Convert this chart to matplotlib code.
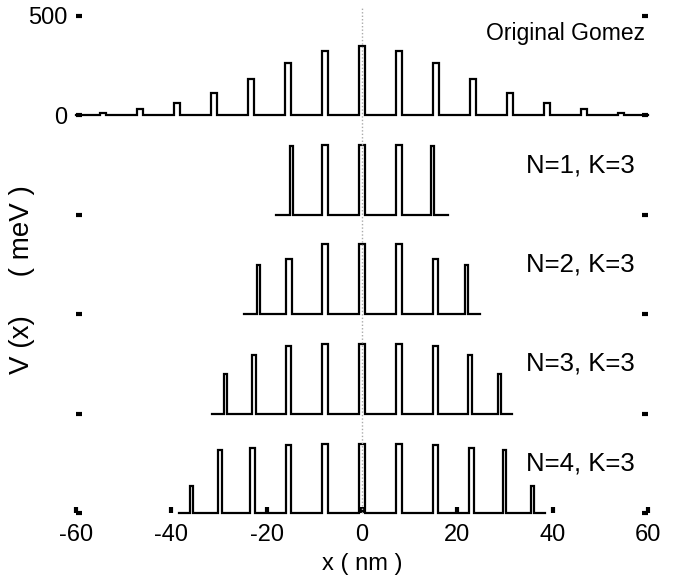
import numpy as np
import matplotlib
matplotlib.use("Agg")
import matplotlib.pyplot as plt

plt.rcParams["font.family"] = ["Liberation Sans Narrow", "Liberation Sans", "DejaVu Sans"]
plt.rcParams["axes.unicode_minus"] = False

# barrier profiles: centre (nm), width (nm), height (meV)
gomez_x = [-54.3, -46.5, -38.8, -31.0, -23.3, -15.5, -7.8, 0.0,
           7.8, 15.5, 23.3, 31.0, 38.8, 46.5, 54.3]
gomez_w = [1.2] * 15
gomez_h = [13, 31, 61, 112, 185, 262, 323, 347, 323, 262, 185, 112, 61, 31, 13]

n1_x = [-14.8, -7.7, 0.0, 7.7, 14.8]
n1_w = [0.6, 1.2, 1.2, 1.2, 0.6]
n1_h = [345, 350, 350, 350, 345]

n2_x = [-21.8, -15.3, -7.7, 0.0, 7.7, 15.4, 21.9]
n2_w = [0.6, 1.2, 1.2, 1.2, 1.2, 1.2, 0.6]
n2_h = [247, 280, 352, 352, 352, 280, 247]

n3_x = [-28.7, -22.6, -15.4, -7.7, 0.0, 7.7, 15.4, 22.6, 28.8]
n3_w = [0.65, 0.9, 1.2, 1.2, 1.2, 1.2, 1.2, 0.9, 0.65]
n3_h = [197, 297, 342, 352, 352, 352, 342, 297, 197]

n4_x = [-35.8, -29.8, -23.0, -15.4, -7.7, 0.0, 7.7, 15.4, 23.0, 29.9, 35.8]
n4_w = [0.6, 0.7, 1.1, 1.2, 1.2, 1.2, 1.2, 1.2, 1.1, 0.7, 0.6]
n4_h = [138, 318, 327, 340, 348, 348, 348, 340, 327, 318, 138]

extents = [60.0, 18.0, 24.7, 31.4, 38.3]   # half length of each structure
offsets = [0, -500, -1000, -1500, -2000]   # vertical shift of each curve
labels = ["Original Gomez", "N=1, K=3", "N=2, K=3", "N=3, K=3", "N=4, K=3"]

yticks = [500, 0, -500, -1000, -1500, -2000]
yticklabels = ["500", "0", "", "", "", ""]
xticks = [-60, -40, -20, 0, 20, 40, 60]


def profile(centres, widths, heights, half, base):
    xs = [-half]
    ys = [base]
    for c, w, h in zip(centres, widths, heights):
        xs += [c - w / 2, c - w / 2, c + w / 2, c + w / 2]
        ys += [base, base + h, base + h, base]
    xs.append(half)
    ys.append(base)
    return xs, ys


fig = plt.figure(figsize=(6.79, 5.88), dpi=100)
ax = fig.add_axes([76 / 679, 1 - 513 / 588, 572 / 679, 497 / 588])

panels = [(gomez_x, gomez_w, gomez_h), (n1_x, n1_w, n1_h), (n2_x, n2_w, n2_h),
          (n3_x, n3_w, n3_h), (n4_x, n4_w, n4_h)]
for (cx, cw, ch), half, off in zip(panels, extents, offsets):
    xs, ys = profile(cx, cw, ch, half, off)
    ax.plot(xs, ys, color="black", lw=1.6, solid_joinstyle="miter", clip_on=False)

ax.plot([0, 0], [-2000, 545], color="#aaaaaa", lw=1, ls=(0, (1, 1.5)),
        clip_on=False, zorder=3)

ax.text(26, 414, labels[0], fontsize=16.5, va="center", ha="left")
for lab, off in zip(labels[1:], offsets[1:]):
    ax.text(34.4, off + 250, lab, fontsize=18.5, va="center", ha="left")

ax.set_xlim(-60, 60)
ax.set_ylim(-2000, 500)
for s in ax.spines.values():
    s.set_visible(False)
ax.set_xticks(xticks)
ax.set_yticks(yticks)
ax.set_yticklabels(yticklabels)
ax.tick_params(direction="in", length=4, width=3, labelsize=17, pad=6,
               left=True, right=True, bottom=True, top=False)
ax.tick_params(axis="x", pad=8)

ax.set_xlabel("x ( nm )", fontsize=17, labelpad=5)
fig.text(22 / 679, 1 - 280 / 588, "V (x)     ( meV )", rotation=90,
         fontsize=20, ha="center", va="center")

fig.savefig("out.png", dpi=100)
